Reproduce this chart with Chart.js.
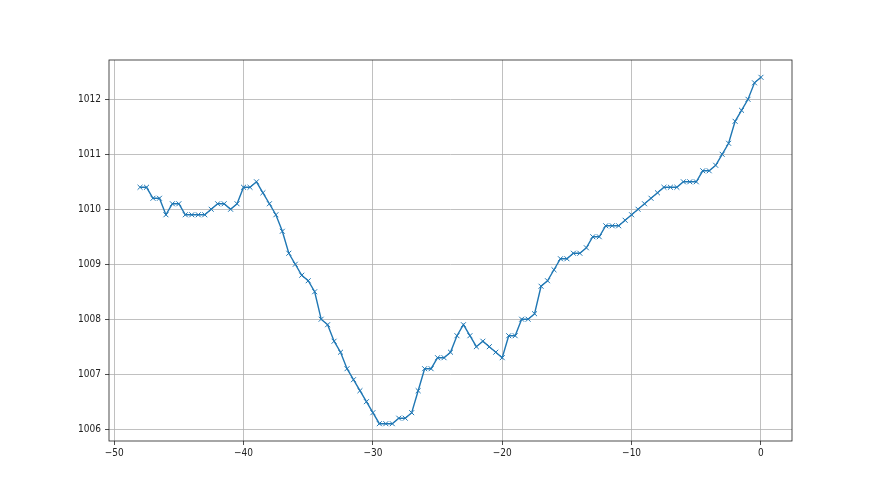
<!DOCTYPE html>
<html>
<head>
<meta charset="utf-8">
<script src="https://cdn.jsdelivr.net/npm/chart.js@4/dist/chart.umd.min.js"></script>
<style>
  body { margin: 0; background: #fff; }
  canvas { display: block; }
</style>
</head>
<body>
<canvas id="chart" width="880" height="495"></canvas>
<script>
'use strict';

// hours (x) and pressure readings (y)
let hours = [];
for (let h = -48; h <= 0; h += 0.5) hours.push(h);

let pressure = [
  1010.4, 1010.4, 1010.2, 1010.2, 1009.9, 1010.1, 1010.1, 1009.9, 1009.9, 1009.9,
  1009.9, 1010.0, 1010.1, 1010.1, 1010.0, 1010.1, 1010.4, 1010.4, 1010.5, 1010.3,
  1010.1, 1009.9, 1009.6, 1009.2, 1009.0, 1008.8, 1008.7, 1008.5, 1008.0, 1007.9,
  1007.6, 1007.4, 1007.1, 1006.9, 1006.7, 1006.5, 1006.3, 1006.1, 1006.1, 1006.1,
  1006.2, 1006.2, 1006.3, 1006.7, 1007.1, 1007.1, 1007.3, 1007.3, 1007.4, 1007.7,
  1007.9, 1007.7, 1007.5, 1007.6, 1007.5, 1007.4, 1007.3, 1007.7, 1007.7, 1008.0,
  1008.0, 1008.1, 1008.6, 1008.7, 1008.9, 1009.1, 1009.1, 1009.2, 1009.2, 1009.3,
  1009.5, 1009.5, 1009.7, 1009.7, 1009.7, 1009.8, 1009.9, 1010.0, 1010.1, 1010.2,
  1010.3, 1010.4, 1010.4, 1010.4, 1010.5, 1010.5, 1010.5, 1010.7, 1010.7, 1010.8,
  1011.0, 1011.2, 1011.6, 1011.8, 1012.0, 1012.3, 1012.4
];

let xTicks = [-50, -40, -30, -20, -10, 0];
let yTicks = [1006, 1007, 1008, 1009, 1010, 1011, 1012];

let points = [];
for (let i = 0; i < hours.length; i++) {
  points.push({ x: hours[i], y: pressure[i] });
}

// black frame round the plot like matplotlib spines
let frame = {
  id: 'frame',
  afterDraw(chart) {
    let a = chart.chartArea;
    let ctx = chart.ctx;
    ctx.save();
    ctx.strokeStyle = '#222';
    ctx.lineWidth = 0.8;
    ctx.strokeRect(a.left, a.top, a.right - a.left, a.bottom - a.top);
    ctx.restore();
  }
};

function minus(v) {
  return String(v).replace('-', '\u2212');
}

let tickFont = { family: "'Liberation Sans Narrow', 'DejaVu Sans Condensed', sans-serif", size: 10 };

new Chart(document.getElementById('chart').getContext('2d'), {
  type: 'line',
  data: {
    datasets: [{
      data: points,
      borderColor: '#1f77b4',
      borderWidth: 1.4,
      pointStyle: 'crossRot',
      pointRadius: 3.5,
      pointBorderWidth: 1,
      pointBorderColor: '#1f77b4',
      pointBackgroundColor: '#1f77b4',
      tension: 0,
      fill: false
    }]
  },
  options: {
    responsive: false,
    animation: false,
    events: [],
    layout: { padding: { left: 0, top: 60, right: 88, bottom: 0 } },
    plugins: { legend: { display: false }, tooltip: { enabled: false } },
    scales: {
      x: {
        type: 'linear',
        min: -50.4,
        max: 2.4,
        afterBuildTicks: function (s) { s.ticks = xTicks.map(v => ({ value: v })); },
        afterFit: function (s) { s.height = 54; },
        ticks: { font: tickFont, color: '#222', padding: 2, maxRotation: 0, callback: v => minus(v) },
        grid: { color: '#b0b0b0', lineWidth: 0.8, tickLength: 4, tickColor: '#222' },
        border: { display: false }
      },
      y: {
        type: 'linear',
        min: 1005.785,
        max: 1012.715,
        afterBuildTicks: function (s) { s.ticks = yTicks.map(v => ({ value: v })); },
        afterFit: function (s) { s.width = 109; },
        ticks: { font: tickFont, color: '#222', padding: 4, callback: v => String(v) },
        grid: { color: '#b0b0b0', lineWidth: 0.8, tickLength: 4, tickColor: '#222' },
        border: { display: false }
      }
    }
  },
  plugins: [frame]
});
</script>
</body>
</html>
